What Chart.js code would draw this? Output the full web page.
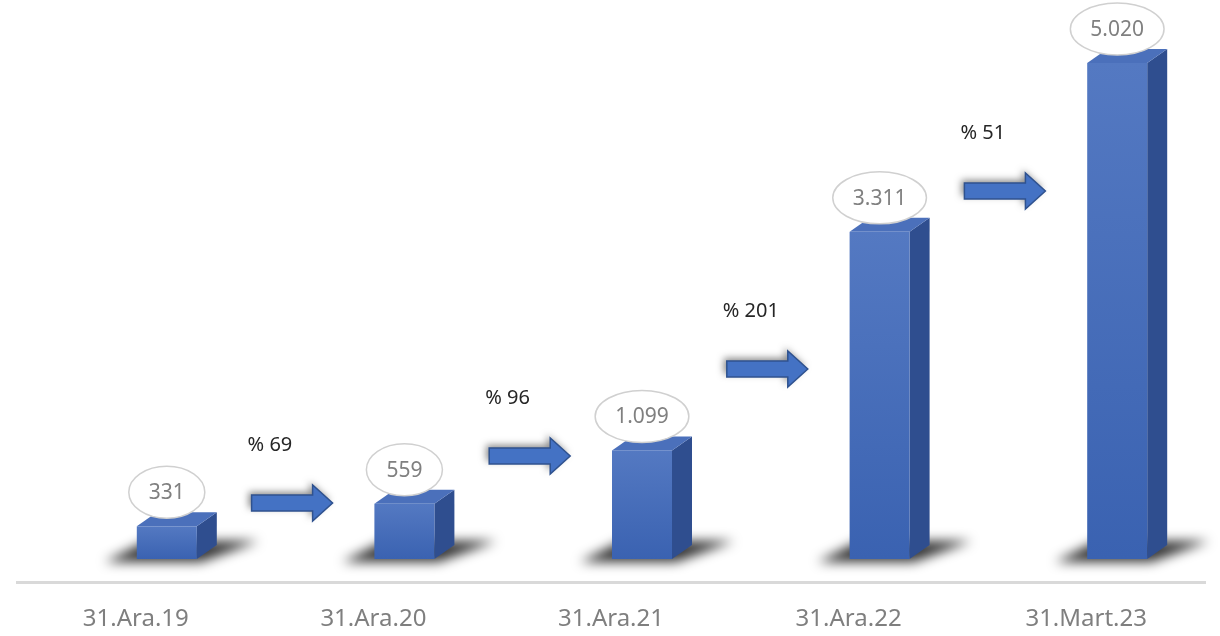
<!DOCTYPE html>
<html>
<head>
<meta charset="utf-8">
<script src="https://cdn.jsdelivr.net/npm/chart.js@4/dist/chart.umd.min.js"></script>
<style>
  html, body { margin: 0; padding: 0; background: #fff; }
  #wrap { width: 1220px; height: 636px; }
</style>
</head>
<body>
<div id="wrap"><canvas id="chart"></canvas></div>
<script>
// values
const categories = ['31.Ara.19', '31.Ara.20', '31.Ara.21', '31.Ara.22', '31.Mart.23'];
const values = [331, 559, 1099, 3311, 5020];
const changeLabels = ['% 69', '% 96', '% 201', '% 51'];
// height of each arrow, in data units
const arrowLevels = [567, 1042, 1923, 3725];

const FONT = '"Noto Sans", "Open Sans", sans-serif';

let fmt = v => String(v).replace(/\B(?=(\d{3})+(?!\d))/g, '.');

let depthX = 20, depthY = 14, barShift = 31;

let drawShadow = (ctx, x0, x1, base) => {
  ctx.save();
  ctx.filter = 'blur(6px)';
  ctx.fillStyle = 'rgba(0,0,0,0.8)';
  ctx.beginPath();
  ctx.moveTo(x0 - 32, base + 3);
  ctx.lineTo(x1 + 4, base + 3);
  ctx.lineTo(x1 + depthX + 42, base - 18);
  ctx.lineTo(x0 + 10, base - 18);
  ctx.closePath();
  ctx.fill();
  ctx.restore();
};

let drawBar = (ctx, x0, x1, top, base) => {
  // side face
  ctx.fillStyle = '#2f4e8f';
  ctx.beginPath();
  ctx.moveTo(x1, base);
  ctx.lineTo(x1 + depthX, base - depthY);
  ctx.lineTo(x1 + depthX, top - depthY);
  ctx.lineTo(x1, top);
  ctx.closePath();
  ctx.fill();
  // top face
  ctx.fillStyle = '#4b70bb';
  ctx.beginPath();
  ctx.moveTo(x0, top);
  ctx.lineTo(x0 + depthX, top - depthY);
  ctx.lineTo(x1 + depthX, top - depthY);
  ctx.lineTo(x1, top);
  ctx.closePath();
  ctx.fill();
  // front face
  let g = ctx.createLinearGradient(0, top, 0, base);
  g.addColorStop(0, '#5479c2');
  g.addColorStop(1, '#3a62b1');
  ctx.fillStyle = g;
  ctx.fillRect(x0, top, x1 - x0, base - top);
};

let drawArrow = (ctx, left, cy) => {
  let len = 81, shaft = 8, head = 18, headLen = 20;
  ctx.save();
  ctx.shadowColor = 'rgba(0,0,0,0.45)';
  ctx.shadowBlur = 7;
  ctx.shadowOffsetX = -3;
  ctx.shadowOffsetY = -3;
  ctx.fillStyle = '#4472c4';
  ctx.beginPath();
  ctx.moveTo(left, cy - shaft);
  ctx.lineTo(left + len - headLen, cy - shaft);
  ctx.lineTo(left + len - headLen, cy - head);
  ctx.lineTo(left + len, cy);
  ctx.lineTo(left + len - headLen, cy + head);
  ctx.lineTo(left + len - headLen, cy + shaft);
  ctx.lineTo(left, cy + shaft);
  ctx.closePath();
  ctx.fill();
  ctx.restore();
  ctx.strokeStyle = '#2f528f';
  ctx.lineWidth = 1.5;
  ctx.stroke();
};

const bars3d = {
  id: 'bars3d',
  afterDatasetsDraw(chart) {
    let ctx = chart.ctx,
        meta = chart.getDatasetMeta(0),
        area = chart.chartArea,
        xs = chart.scales.x,
        ys = chart.scales.y;

    // floor line
    ctx.save();
    ctx.fillStyle = '#d9d9d9';
    ctx.fillRect(area.left - 1, area.bottom + 22, area.right - area.left + 2, 3);
    ctx.restore();

    meta.data.forEach(el => {
      let half = 30, cx = el.x + barShift;
      drawShadow(ctx, cx - half, cx + half, el.base);
    });
    meta.data.forEach(el => {
      let half = 30, cx = el.x + barShift;
      drawBar(ctx, cx - half, cx + half, el.y, el.base);
    });

    // value ellipses
    ctx.save();
    ctx.font = '21px ' + FONT;
    ctx.textAlign = 'center';
    ctx.textBaseline = 'middle';
    meta.data.forEach((el, i) => {
      let txt = fmt(values[i]),
          cx = el.x + barShift,
          cy = el.y - 34,
          rx = ctx.measureText(txt).width / 2 + 20;
      ctx.beginPath();
      ctx.ellipse(cx, cy, rx, 26, 0, 0, Math.PI * 2);
      ctx.fillStyle = '#ffffff';
      ctx.fill();
      ctx.lineWidth = 1.5;
      ctx.strokeStyle = '#d0d0d0';
      ctx.stroke();
      ctx.fillStyle = '#808080';
      ctx.fillText(txt, cx, cy + 1);
    });
    ctx.restore();

    // change arrows
    ctx.save();
    arrowLevels.forEach((lvl, i) => {
      let mid = (xs.getPixelForValue(i) + xs.getPixelForValue(i + 1)) / 2,
          left = mid - 3,
          cy = ys.getPixelForValue(lvl);
      drawArrow(ctx, left, cy);
      ctx.font = '20px ' + FONT;
      ctx.fillStyle = '#262626';
      ctx.textAlign = 'left';
      ctx.textBaseline = 'middle';
      ctx.fillText(changeLabels[i], left - 4, cy - 58);
    });
    ctx.restore();
  }
};

new Chart(document.getElementById('chart'), {
  type: 'bar',
  data: {
    labels: categories,
    datasets: [{
      data: values,
      backgroundColor: 'rgba(0,0,0,0)',
      borderWidth: 0
    }]
  },
  options: {
    responsive: true,
    maintainAspectRatio: false,
    animation: false,
    layout: { padding: { left: 17, right: 15, top: 63, bottom: 4 } },
    plugins: { legend: { display: false }, tooltip: { enabled: false } },
    scales: {
      x: {
        grid: { display: false, drawTicks: false },
        border: { display: false },
        ticks: {
          padding: 46,
          maxRotation: 0,
          color: '#7f7f7f',
          font: { family: FONT, size: 24 }
        },
        afterFit: scale => { scale.height = 73; }
      },
      y: { display: false, min: 0, max: 5020 }
    }
  },
  plugins: [bars3d]
});
</script>
</body>
</html>
